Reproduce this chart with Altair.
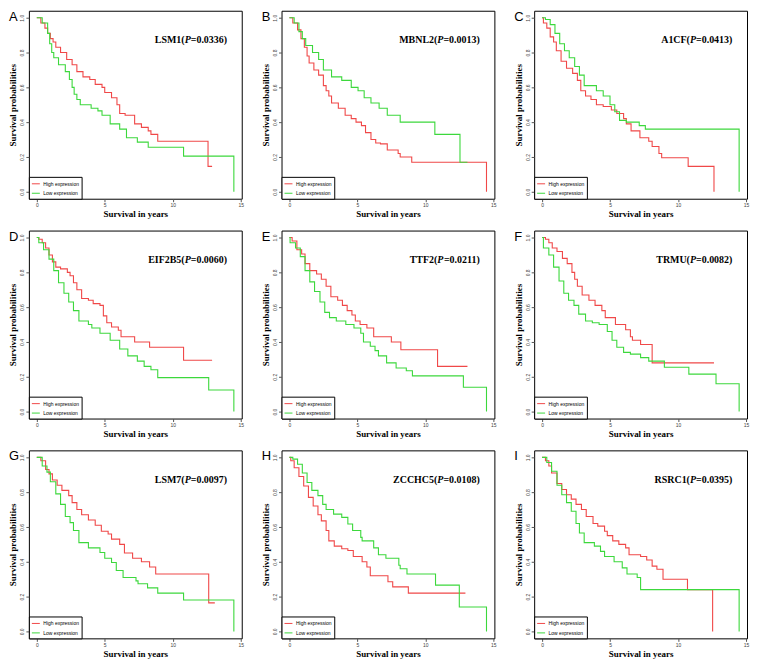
import altair as alt
import pandas as pd

LETTERS = ["A", "B", "C", "D", "E", "F", "G", "H", "I"]
GENES = ["LSM1", "MBNL2", "A1CF", "EIF2B5", "TTF2", "TRMU", "LSM7", "ZCCHC5", "RSRC1"]
PVALS = ["0.0336", "0.0013", "0.0413", "0.0060", "0.0211", "0.0082", "0.0097", "0.0108", "0.0395"]
GROUPS = ["High expression", "Low expression"]
X_TICKS = [0, 5, 10, 15]
Y_TICKS = [0.0, 0.2, 0.4, 0.6, 0.8, 1.0]

# Kaplan-Meier step points (time in years, survival probability)
A_HIGH_T = [0, 0.3, 0.6, 0.8, 1.0, 1.2, 1.4, 1.75, 2.2, 2.6, 2.95, 3.4, 3.9, 4.3, 4.8, 5.0, 5.5, 5.9, 6.1, 6.5, 7.2, 7.7, 8.2, 8.4, 8.9, 12.6, 12.9]
A_HIGH_S = [1.0, 0.97, 0.94, 0.91, 0.88, 0.86, 0.83, 0.80, 0.76, 0.73, 0.69, 0.66, 0.645, 0.617, 0.60, 0.57, 0.54, 0.50, 0.45, 0.44, 0.39, 0.37, 0.35, 0.33, 0.29, 0.146, 0.146]
A_LOW_T = [0, 0.4, 0.8, 0.95, 1.1, 1.25, 1.6, 2.1, 2.4, 2.6, 2.75, 2.95, 3.2, 4.0, 4.5, 4.8, 5.4, 6.1, 6.6, 7.4, 8.2, 10.8, 14.5]
A_LOW_S = [1.0, 0.97, 0.91, 0.85, 0.80, 0.77, 0.73, 0.69, 0.645, 0.60, 0.56, 0.53, 0.50, 0.48, 0.465, 0.44, 0.39, 0.36, 0.31, 0.285, 0.256, 0.205, 0.0]

B_HIGH_T = [0, 0.25, 0.6, 0.85, 1.1, 1.3, 1.45, 1.8, 2.15, 2.5, 2.7, 2.9, 3.1, 3.6, 4.1, 4.55, 4.9, 5.3, 5.6, 6.0, 6.35, 6.7, 7.2, 8.0, 8.15, 9.0, 14.5]
B_HIGH_S = [1.0, 0.97, 0.93, 0.88, 0.83, 0.78, 0.74, 0.70, 0.67, 0.61, 0.58, 0.55, 0.51, 0.48, 0.44, 0.42, 0.40, 0.38, 0.34, 0.30, 0.28, 0.275, 0.24, 0.22, 0.20, 0.17, 0.0]
B_LOW_T = [0, 0.35, 0.7, 0.95, 1.2, 1.7, 2.15, 2.5, 3.1, 3.85, 4.55, 5.05, 5.5, 6.0, 6.6, 7.2, 8.15, 10.7, 12.55, 13.1]
B_LOW_S = [1.0, 0.97, 0.92, 0.88, 0.84, 0.80, 0.76, 0.70, 0.66, 0.64, 0.60, 0.58, 0.54, 0.51, 0.48, 0.44, 0.40, 0.33, 0.17, 0.17]

C_HIGH_T = [0, 0.1, 0.35, 0.6, 0.85, 1.05, 1.4, 1.8, 2.25, 2.6, 2.85, 3.2, 3.6, 4.0, 4.5, 5.1, 5.5, 6.0, 6.2, 6.55, 7.2, 7.85, 8.1, 8.6, 8.8, 10.75, 12.65]
C_HIGH_S = [1.0, 0.97, 0.94, 0.89, 0.86, 0.81, 0.75, 0.71, 0.68, 0.64, 0.58, 0.55, 0.53, 0.50, 0.49, 0.47, 0.45, 0.42, 0.39, 0.35, 0.31, 0.29, 0.26, 0.22, 0.195, 0.146, 0.0]
C_LOW_T = [0, 0.25, 0.6, 0.95, 1.3, 1.65, 2.0, 2.4, 2.75, 3.1, 4.0, 4.5, 5.0, 5.35, 5.7, 6.2, 7.15, 7.6, 14.5]
C_LOW_S = [1.0, 0.99, 0.96, 0.91, 0.85, 0.81, 0.77, 0.72, 0.67, 0.61, 0.58, 0.55, 0.50, 0.46, 0.41, 0.40, 0.38, 0.36, 0.0]

D_HIGH_T = [0, 0.15, 0.4, 0.65, 0.9, 1.15, 1.4, 1.75, 2.25, 2.45, 2.7, 2.95, 3.3, 3.8, 4.15, 4.65, 4.9, 5.15, 5.5, 6.0, 6.2, 7.2, 8.3, 10.8, 12.9]
D_HIGH_S = [1.0, 0.99, 0.97, 0.94, 0.90, 0.86, 0.83, 0.82, 0.80, 0.78, 0.74, 0.70, 0.65, 0.64, 0.62, 0.61, 0.55, 0.51, 0.486, 0.467, 0.43, 0.40, 0.37, 0.295, 0.295]
D_LOW_T = [0, 0.15, 0.5, 0.9, 1.25, 1.6, 2.0, 2.35, 2.7, 3.1, 3.8, 4.05, 4.65, 5.4, 6.1, 6.7, 7.4, 7.9, 8.4, 8.9, 12.65, 14.5]
D_LOW_S = [1.0, 0.97, 0.93, 0.876, 0.81, 0.74, 0.68, 0.63, 0.58, 0.52, 0.50, 0.48, 0.45, 0.41, 0.36, 0.32, 0.29, 0.26, 0.24, 0.195, 0.124, 0.0]

E_HIGH_T = [0, 0.2, 0.55, 0.9, 1.15, 1.5, 2.0, 2.35, 2.7, 3.05, 3.55, 3.9, 4.25, 4.6, 4.85, 5.2, 5.7, 6.2, 7.5, 8.2, 10.9, 13.1]
E_HIGH_S = [1.0, 0.98, 0.93, 0.905, 0.85, 0.81, 0.79, 0.76, 0.72, 0.66, 0.64, 0.61, 0.58, 0.555, 0.52, 0.50, 0.48, 0.43, 0.40, 0.355, 0.26, 0.26]
E_LOW_T = [0, 0.05, 0.45, 0.8, 1.15, 1.5, 1.85, 2.25, 2.6, 2.95, 3.45, 4.15, 4.75, 5.25, 5.45, 5.95, 6.3, 6.55, 7.15, 7.85, 8.6, 9.05, 12.8, 14.5]
E_LOW_S = [1.0, 0.97, 0.94, 0.89, 0.81, 0.745, 0.69, 0.63, 0.57, 0.54, 0.52, 0.50, 0.48, 0.45, 0.40, 0.375, 0.35, 0.32, 0.28, 0.25, 0.235, 0.205, 0.14, 0.0]

F_HIGH_T = [0, 0.25, 0.5, 0.75, 1.1, 1.5, 1.85, 2.2, 2.4, 2.6, 2.95, 3.45, 3.9, 4.4, 4.65, 5.4, 6.15, 6.5, 6.65, 7.25, 8.1, 12.65]
F_HIGH_S = [1.0, 0.99, 0.97, 0.94, 0.92, 0.88, 0.85, 0.80, 0.76, 0.72, 0.67, 0.64, 0.61, 0.58, 0.54, 0.50, 0.47, 0.43, 0.41, 0.385, 0.28, 0.28]
F_LOW_T = [0, 0.1, 0.5, 0.85, 1.25, 1.6, 1.95, 2.35, 2.7, 3.2, 3.7, 4.2, 4.8, 5.15, 5.5, 6.0, 6.5, 7.25, 7.85, 9.0, 10.8, 12.8, 14.5]
F_LOW_S = [1.0, 0.94, 0.90, 0.83, 0.75, 0.68, 0.64, 0.61, 0.56, 0.52, 0.51, 0.50, 0.46, 0.41, 0.37, 0.34, 0.33, 0.31, 0.29, 0.255, 0.215, 0.16, 0.0]

G_HIGH_T = [0, 0.3, 0.65, 0.9, 1.15, 1.5, 1.85, 2.35, 2.6, 2.95, 3.3, 3.8, 4.3, 4.75, 5.25, 5.5, 6.1, 6.45, 7.05, 7.7, 8.3, 8.75, 12.65, 13.1]
G_HIGH_S = [1.0, 0.98, 0.93, 0.905, 0.87, 0.84, 0.81, 0.78, 0.74, 0.70, 0.67, 0.64, 0.61, 0.575, 0.56, 0.53, 0.50, 0.45, 0.42, 0.40, 0.37, 0.33, 0.164, 0.164]
G_LOW_T = [0, 0.4, 0.75, 1.0, 1.4, 1.75, 2.1, 2.45, 2.7, 3.1, 3.8, 4.65, 5.0, 5.5, 5.85, 6.35, 7.3, 7.45, 8.15, 8.9, 10.8, 14.5]
G_LOW_S = [1.0, 0.95, 0.915, 0.86, 0.79, 0.73, 0.66, 0.625, 0.58, 0.51, 0.48, 0.453, 0.42, 0.396, 0.35, 0.31, 0.29, 0.274, 0.25, 0.22, 0.18, 0.0]

H_HIGH_T = [0, 0.1, 0.35, 0.7, 1.05, 1.4, 1.75, 2.1, 2.35, 2.7, 2.9, 3.3, 3.85, 4.3, 4.7, 5.35, 5.7, 5.95, 7.25, 7.6, 8.75, 12.95]
H_HIGH_S = [1.0, 0.98, 0.94, 0.89, 0.835, 0.77, 0.72, 0.67, 0.635, 0.58, 0.52, 0.49, 0.475, 0.465, 0.43, 0.40, 0.37, 0.32, 0.285, 0.256, 0.22, 0.22]
H_LOW_T = [0, 0.25, 0.6, 0.95, 1.3, 1.65, 2.1, 2.45, 2.7, 3.25, 3.85, 4.3, 4.65, 5.25, 5.35, 6.2, 6.55, 7.1, 8.05, 8.15, 8.65, 10.75, 12.5, 14.5]
H_LOW_S = [1.0, 0.99, 0.96, 0.91, 0.855, 0.81, 0.78, 0.73, 0.70, 0.674, 0.655, 0.617, 0.58, 0.54, 0.52, 0.48, 0.44, 0.42, 0.38, 0.36, 0.33, 0.266, 0.14, 0.0]

I_HIGH_T = [0, 0.25, 0.5, 0.7, 1.1, 1.45, 1.8, 2.15, 2.5, 2.9, 3.25, 3.75, 4.1, 4.6, 4.8, 5.2, 5.65, 6.15, 6.4, 7.25, 7.7, 8.1, 8.45, 8.9, 10.7, 12.55]
I_HIGH_S = [1.0, 0.98, 0.95, 0.91, 0.85, 0.815, 0.785, 0.76, 0.73, 0.70, 0.66, 0.62, 0.605, 0.575, 0.55, 0.52, 0.50, 0.48, 0.44, 0.43, 0.41, 0.375, 0.357, 0.30, 0.24, 0.0]
I_LOW_T = [0, 0.35, 0.7, 1.1, 1.45, 1.8, 2.15, 2.5, 2.75, 3.1, 3.85, 4.3, 4.6, 5.3, 5.9, 6.25, 7.0, 7.25, 14.5]
I_LOW_S = [1.0, 0.97, 0.92, 0.84, 0.785, 0.74, 0.69, 0.62, 0.565, 0.51, 0.49, 0.46, 0.43, 0.40, 0.365, 0.33, 0.31, 0.24, 0.0]

CURVES = [
    (A_HIGH_T, A_HIGH_S, A_LOW_T, A_LOW_S),
    (B_HIGH_T, B_HIGH_S, B_LOW_T, B_LOW_S),
    (C_HIGH_T, C_HIGH_S, C_LOW_T, C_LOW_S),
    (D_HIGH_T, D_HIGH_S, D_LOW_T, D_LOW_S),
    (E_HIGH_T, E_HIGH_S, E_LOW_T, E_LOW_S),
    (F_HIGH_T, F_HIGH_S, F_LOW_T, F_LOW_S),
    (G_HIGH_T, G_HIGH_S, G_LOW_T, G_LOW_S),
    (H_HIGH_T, H_HIGH_S, H_LOW_T, H_LOW_S),
    (I_HIGH_T, I_HIGH_S, I_LOW_T, I_LOW_S),
]

RED = "#F04848"
GREEN = "#3CD83C"
SERIF = "Liberation Serif"
SANS = "Liberation Sans"
W, H = 214, 189
LABEL_X, LABEL_Y = 14.0, 0.87
LABEL_FS = 10

# Times-Bold advance widths (per 1000 em) for measuring the annotation parts
TB = {"A": 722, "B": 667, "C": 722, "E": 667, "F": 611, "H": 778, "I": 389, "L": 667,
      "M": 944, "N": 722, "R": 722, "S": 556, "T": 667, "U": 722, "Z": 667, "(": 333,
      ")": 333, "=": 570, ".": 250, "P": 611}
for d in "0123456789":
    TB[d] = 500


def text_width(s, fs):
    return sum(TB.get(ch, 560) for ch in s) * fs / 1000.0


XS = alt.Scale(domain=[-0.58, 15.08], nice=False, zero=False)
YS = alt.Scale(domain=[-0.04, 1.04], nice=False, zero=False)
XAX = alt.Axis(title="Survival in years", values=X_TICKS, format="d")
YAX = alt.Axis(title="Survival probabilities", values=Y_TICKS, format=".1f",
               labelAngle=270, labelAlign="center", labelBaseline="bottom")


def panel(i):
    ht, hs, lt, ls = CURVES[i]
    rows = []
    for g, ts, ss in ((GROUPS[0], ht, hs), (GROUPS[1], lt, ls)):
        for k, (t, s) in enumerate(zip(ts, ss)):
            rows.append({"group": g, "t": t, "s": s, "k": k})
    df = pd.DataFrame(rows)
    lines = alt.Chart(df).mark_line(interpolate="step-after", strokeWidth=1.1).encode(
        x=alt.X("t:Q", scale=XS, axis=XAX),
        y=alt.Y("s:Q", scale=YS, axis=YAX),
        color=alt.Color("group:N", scale=alt.Scale(domain=GROUPS, range=[RED, GREEN]),
                        legend=alt.Legend(title=None, orient="bottom-left", offset=0,
                                          strokeColor="black", fillColor="white",
                                          padding=2.5, symbolType="stroke", symbolSize=64,
                                          symbolStrokeWidth=1, labelFontSize=5,
                                          labelFont=SANS, rowPadding=1.5, labelOffset=3)),
        order="k:Q",
    )
    a = GENES[i] + "("
    b = "P"
    c = "=" + PVALS[i] + ")"
    wc = text_width(c, LABEL_FS)
    wb = text_width(b, LABEL_FS)
    lab = pd.DataFrame({"t": [LABEL_X], "s": [LABEL_Y], "a": [a], "b": [b], "c": [c]})
    base = alt.Chart(lab).encode(x=alt.X("t:Q", scale=XS, axis=XAX),
                                 y=alt.Y("s:Q", scale=YS, axis=YAX))
    style = dict(align="right", baseline="middle", font=SERIF, fontWeight="bold",
                 fontSize=LABEL_FS, color="black")
    t3 = base.mark_text(**style).encode(text="c:N")
    t2 = base.mark_text(fontStyle="italic", dx=-wc, **style).encode(text="b:N")
    t1 = base.mark_text(dx=-(wc + wb), **style).encode(text="a:N")
    return alt.layer(lines, t1, t2, t3).properties(
        width=W, height=H,
        title=alt.TitleParams(LETTERS[i], anchor="start", frame="bounds", offset=-13,
                              fontSize=13, font=SANS, fontWeight="normal", color="black"),
    )


rows = [
    alt.hconcat(*[panel(r * 3 + c) for c in range(3)], spacing=16).resolve_scale(color="independent")
    for r in range(3)
]
chart = (
    alt.vconcat(*rows, spacing=10)
    .resolve_scale(color="independent")
    .properties(padding=0, background="white")
    .configure_view(stroke="black", strokeWidth=1)
    .configure_axis(grid=False, domain=False, tickSize=3, tickColor="#555",
                    labelFontSize=5, labelColor="#444", labelFont=SANS, labelPadding=1,
                    titleFont=SERIF, titleFontWeight="bold", titleFontSize=9,
                    titleColor="black", titlePadding=2)
)

chart.save("out.html", embed_options={"renderer": "svg", "actions": False})
